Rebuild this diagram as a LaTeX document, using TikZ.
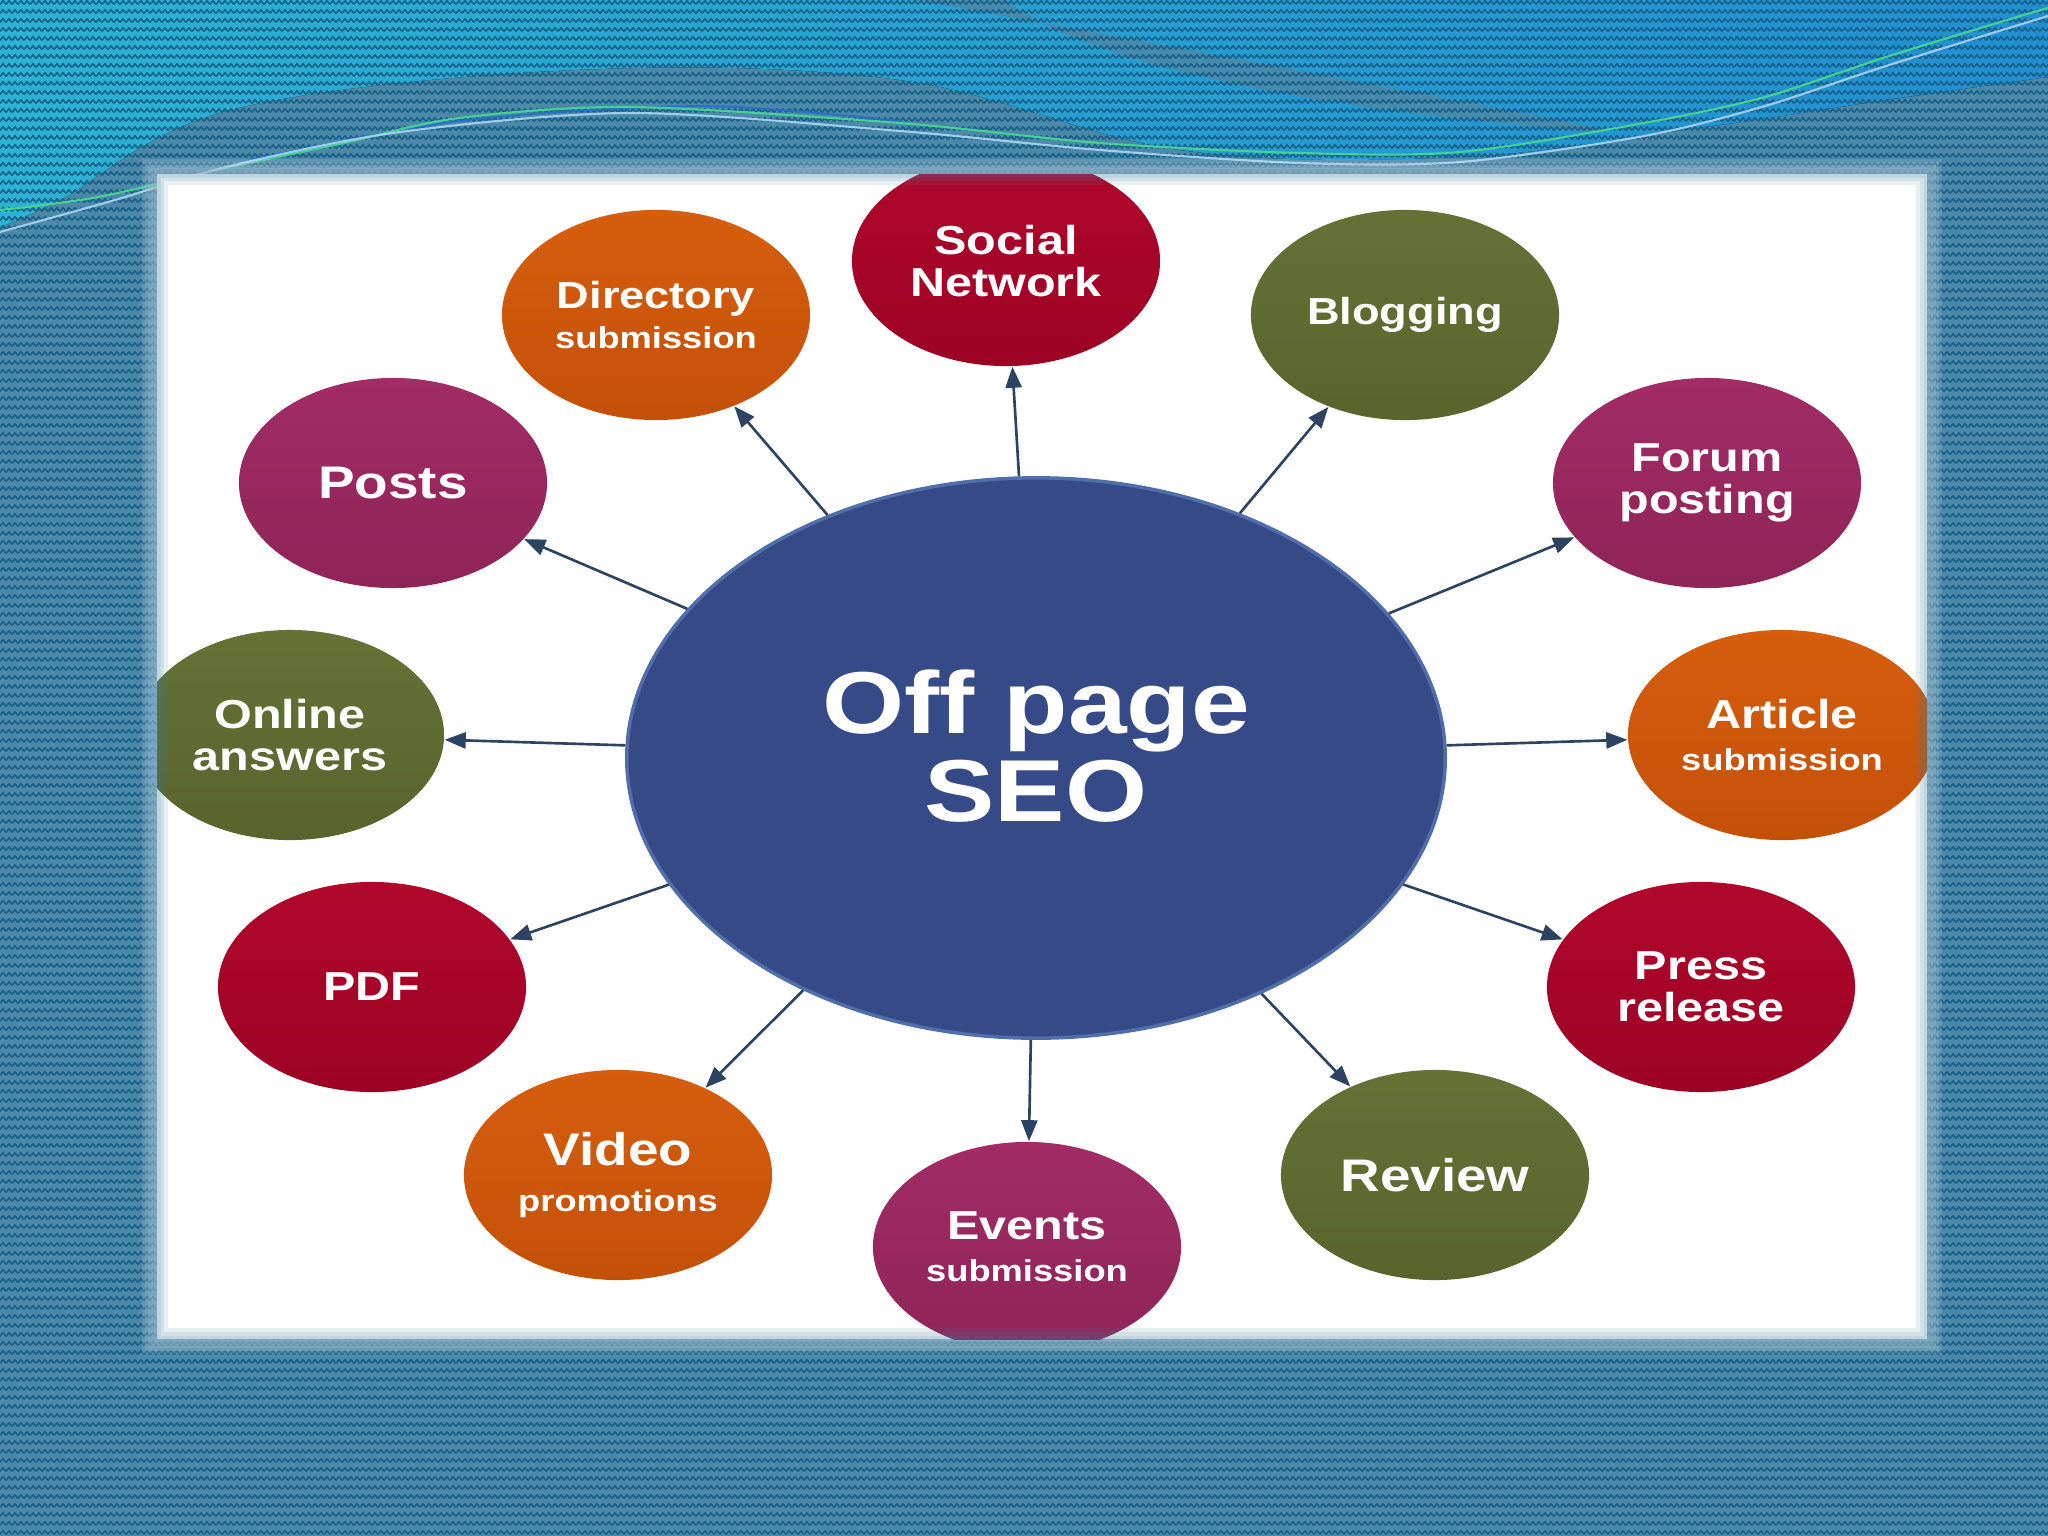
\documentclass[tikz,border=0pt]{standalone}
\usepackage{fontspec}
\setmainfont{Liberation Sans}[FakeStretch=1.2]
\usetikzlibrary{arrows.meta,shapes.geometric,patterns}

\definecolor{bgblue}{RGB}{76,136,168}
\definecolor{bgedge}{RGB}{62,124,158}
\definecolor{zzblue}{RGB}{24,96,136}
\definecolor{tealleft}{RGB}{44,178,210}
\definecolor{tealmid}{RGB}{36,156,196}
\definecolor{tealright}{RGB}{34,142,208}
\definecolor{mainblue}{RGB}{53,74,135}
\definecolor{mainedge}{RGB}{80,110,170}
\definecolor{orangetop}{RGB}{214,94,14}
\definecolor{orangebot}{RGB}{196,80,8}
\definecolor{crimsontop}{RGB}{176,8,44}
\definecolor{crimsonbot}{RGB}{156,2,36}
\definecolor{olivetop}{RGB}{100,114,54}
\definecolor{olivebot}{RGB}{88,100,44}
\definecolor{plumtop}{RGB}{162,44,102}
\definecolor{plumbot}{RGB}{142,36,88}
\definecolor{arrowcol}{RGB}{44,68,98}
\definecolor{greenline}{RGB}{70,210,150}
\definecolor{paleline}{RGB}{160,205,235}
\definecolor{blueline}{RGB}{40,110,205}

\pgfdeclarepatternformonly{zigzag}{\pgfqpoint{0pt}{0pt}}{\pgfqpoint{1.7pt}{2.65pt}}{\pgfqpoint{1.7pt}{2.65pt}}{%
  \pgfsetlinewidth{0.45pt}%
  \pgfpathmoveto{\pgfqpoint{0pt}{0.8pt}}%
  \pgfpathlineto{\pgfqpoint{0.85pt}{1.9pt}}%
  \pgfpathlineto{\pgfqpoint{1.7pt}{0.8pt}}%
  \pgfusepath{stroke}}

\newcommand{\subtxt}[1]{{\fontsize{8.6}{10}\selectfont #1}}

\begin{document}
\begin{tikzpicture}[x=0.01cm,y=-0.01cm,>={Triangle[length=6pt,width=4.6pt]},
  sat/.style={ellipse,minimum width=3.08cm,minimum height=2.1cm,inner sep=0pt,
    align=center,text=white,font=\fontsize{11.5}{12}\selectfont\bfseries},
  orng/.style={sat,top color=orangetop,bottom color=orangebot},
  crim/.style={sat,top color=crimsontop,bottom color=crimsonbot},
  olive/.style={sat,top color=olivetop,bottom color=olivebot},
  plum/.style={sat,top color=plumtop,bottom color=plumbot},
  big/.style={font=\fontsize{13}{13}\selectfont\bfseries},
  slim/.style={font=\fontsize{10.7}{11.5}\selectfont\bfseries},
  link/.style={->,arrowcol,line width=0.75pt}]
  \useasboundingbox (0,0) rectangle (2048,1536);
  \fill[bgblue] (0,0) rectangle (2048,1536);
  \fill[left color=tealleft,middle color=tealmid,right color=tealright]
    (0,0) -- (2048,0) -- plot[smooth,tension=0.6] coordinates {(2048,77) (1886,100) (1705,127)
    (1460,157) (1180,150) (900,80) (574,70) (230,110) (60,200) (0,227)} -- cycle;
  \fill[bgblue,opacity=0.85] (914,0) .. controls (1000,15) and (1250,60) .. (1600,128)
    -- (1600,132) .. controls (1300,110) and (1080,60) .. (1006,0) -- cycle;
  \fill[pattern=zigzag,pattern color=zzblue] (0,0) rectangle (2048,1536);
  \draw[blueline,line width=0.5pt] plot[smooth] coordinates {(250,160) (459,121) (700,106) (900,121)};
  \draw[greenline,line width=0.6pt] plot[smooth] coordinates {(0,210) (98,197) (230,167)
    (344,143) (459,118) (631,107) (900,123) (1100,143) (1300,153) (1460,152) (1644,123)
    (1765,97) (1886,57) (2007,20) (2048,8)};
  \draw[paleline,line width=0.6pt] plot[smooth] coordinates {(0,232) (115,200) (230,166)
    (400,132) (631,113) (900,131) (1100,150) (1300,163) (1460,162) (1644,136) (1765,106)
    (1886,66) (2048,16)};
  \foreach \d in {3,6,...,15}
    \fill[white,opacity=0.12] (157-\d,174-\d) rectangle (1927+\d,1339+\d);

  \begin{scope}
    \clip (157,174) rectangle (1927,1339);
    \fill[white] (157,174) rectangle (1927,1339);
    \node[ellipse,fill=mainblue,draw=mainedge,line width=1pt,minimum width=8.18cm,
      minimum height=5.6cm] (main) at (1036,758) {};
    \node[text=white,align=center,font=\fontsize{25}{25}\selectfont\bfseries]
      (maintxt) at (1036,746) {Off page\\SEO};
    \node[crim] (social) at (1006,261) {Social\\Network};
    \node[orng,slim] (dir) at (656,315) {Directory\\\subtxt{submission}};
    \node[olive,slim] (blog) at (1405,315) {Blogging};
    \node[plum,big] (posts) at (393,483) {Posts};
    \node[plum] (forum) at (1707,483) {Forum\\posting};
    \node[olive] (online) at (290,735) {Online\\answers};
    \node[orng] (article) at (1782,735) {Article\\\subtxt{submission}};
    \node[crim] (pdf) at (372,987) {PDF};
    \node[crim] (press) at (1701,987) {Press\\release};
    \node[orng,big] (video) at (618,1175) {Video\\\subtxt{promotions}};
    \node[olive,big] (review) at (1435,1175) {Review};
    \node[plum] (events) at (1027,1247) {Events\\\subtxt{submission}};
    \foreach \s in {social,dir,blog,posts,forum,online,article,pdf,press,video,review,events}
      \draw[link] (main) -- (\s);
  \end{scope}
  \foreach \w in {2,4,6}
    \draw[bgedge,opacity=0.12,line width=\w pt] (157,174) rectangle (1927,1339);
\end{tikzpicture}
\end{document}
